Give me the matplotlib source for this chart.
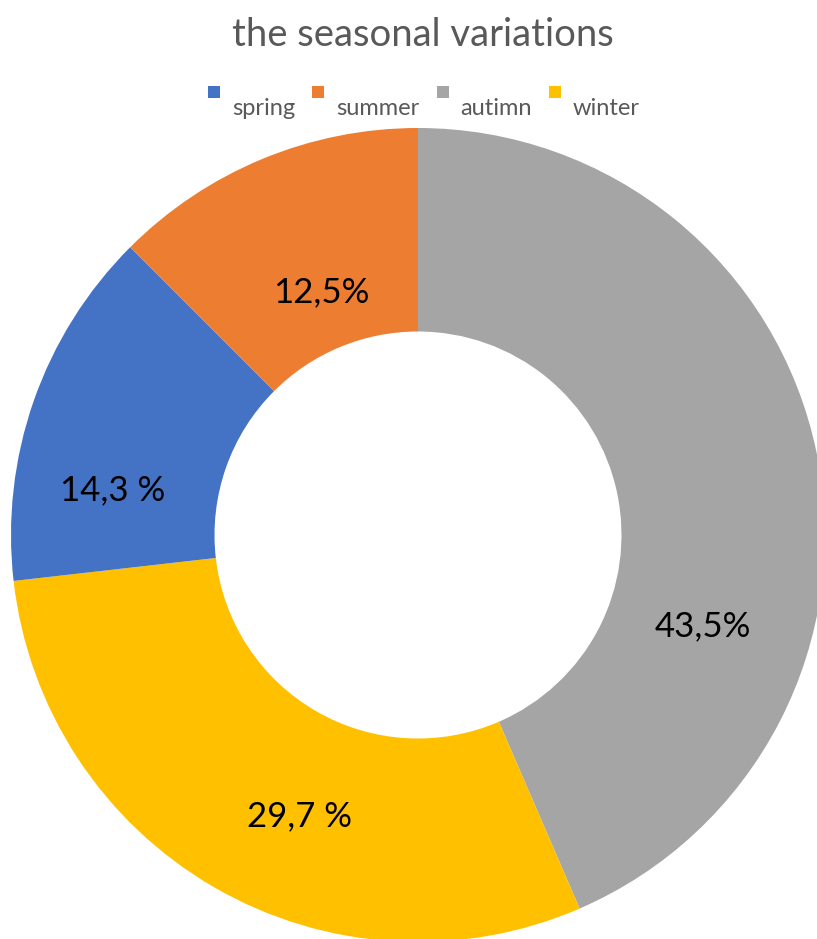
import matplotlib
matplotlib.use("Agg")
import matplotlib.pyplot as plt
from matplotlib.patches import Rectangle
from matplotlib.transforms import IdentityTransform

plt.rcParams['font.family'] = ['Lato', 'DejaVu Sans']

# legend order
seasons = ['spring', 'summer', 'autimn', 'winter']
colors = ['#4472C4', '#ED7D31', '#A5A5A5', '#FFC000']

# drawing order (clockwise from 12 o'clock)
pie_order = ['autimn', 'winter', 'spring', 'summer']
shares = [43.5, 29.7, 14.3, 12.5]
label_text = ['43,5%', '29,7 %', '14,3 %', '12,5%']

# hand placed labels, in units of the outer radius
label_xy = [(0.700, -0.225), (-0.292, -0.690), (-0.751, 0.110), (-0.238, 0.596)]

W, H = 817, 939
cx, cy, R = 418, 535, 407   # pixel centre / radius of the ring

fig = plt.figure(figsize=(W / 100, H / 100), dpi=100)
ax = fig.add_axes([0, 0, 1, 1])

col_map = dict(zip(seasons, colors))
wedges, _ = ax.pie(shares, colors=[col_map[s] for s in pie_order],
                   startangle=90, counterclock=False, radius=1.0,
                   wedgeprops=dict(width=0.5, linewidth=0))
ax.set_aspect('auto')
ax.set_xlim(-cx / R, (W - cx) / R)
ax.set_ylim(-(H - cy) / R, cy / R)
ax.axis('off')

for txt, (x, y) in zip(label_text, label_xy):
    ax.text(x, y, txt, ha='center', va='center', fontsize=25, color='#000000')

fig.text(423 / W, 1 - 35 / H, 'the seasonal variations', ha='center', va='center',
         fontsize=27.5, color='#595959')

# legend, excel style: small square with the label sitting a bit lower
renderer = fig.canvas.get_renderer()
sq, pad, gap = 12, 24, 17
texts, widths = [], []
for s in seasons:
    t = fig.text(0, 0, s, fontsize=17, color='#595959', transform=IdentityTransform(),
                 ha='left', va='baseline')
    texts.append(t)
    widths.append(t.get_window_extent(renderer).width)
total = sum(pad + w for w in widths) + gap * (len(seasons) - 1)
x = 424 - total / 2
for t, w, c in zip(texts, widths, colors):
    fig.patches.append(Rectangle((x, H - 98), sq, sq, facecolor=c, edgecolor='none',
                                 transform=IdentityTransform(), figure=fig))
    t.set_position((x + pad, H - 115))
    x += pad + w + gap

fig.savefig('out.png', dpi=100)
